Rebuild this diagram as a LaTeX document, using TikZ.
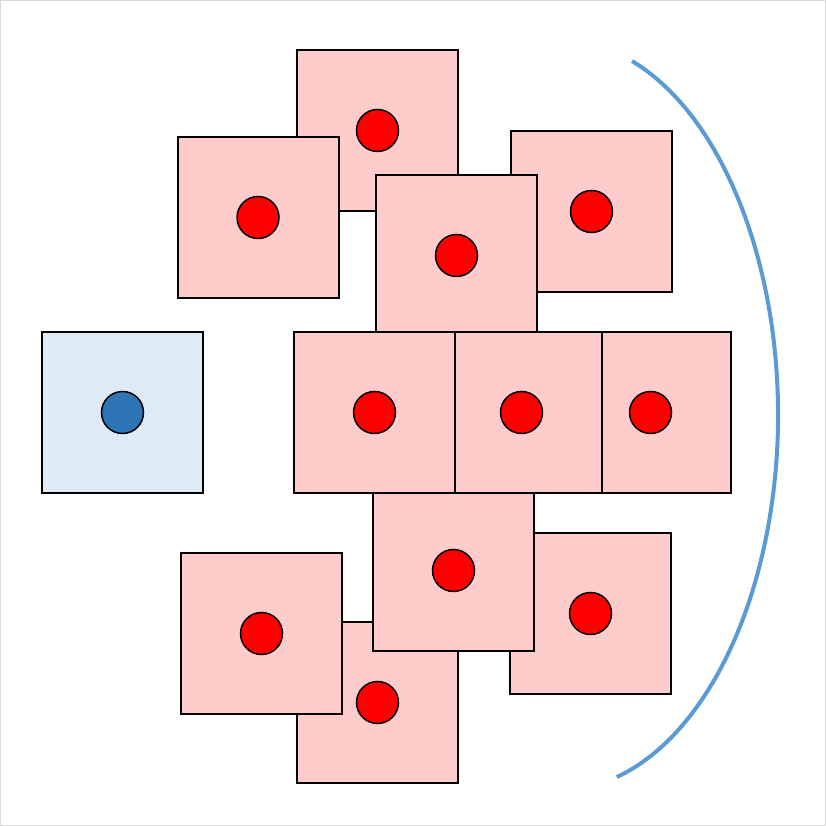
\documentclass[tikz,border=0pt]{standalone}
\usepackage{xcolor}
\usepackage{tikz}
\usetikzlibrary{
  positioning,
}

\definecolor{cellpink}{HTML}{FFCCCC}
\definecolor{dotred}{HTML}{FF0000}
\definecolor{cellblue}{HTML}{DEEAF6}
\definecolor{dotblue}{HTML}{2E75B6}
\definecolor{bowblue}{HTML}{5B9BD5}
\definecolor{framegray}{HTML}{D9D9D9}

\begin{document}
\begin{tikzpicture}[
  x=0.1mm, y=0.1mm,
  cell/.style={draw=black, line width=0.2mm, fill=cellpink,
    minimum size=16.1mm, inner sep=0pt, outer sep=0pt},
  dot/.style={circle, draw=black, line width=0.15mm, fill=dotred,
    minimum size=4.2mm, inner sep=0pt},
]

\useasboundingbox (0,0) rectangle (826,826);
\draw[framegray, line width=0.1mm] (0.5,0.5) rectangle (825.5,825.5);

% red cells, back to front
\foreach \n/\x/\y in {top/377.5/695.5, topright/591.5/614.5,
    topleft/258/608.5, topmid/456.5/570.5,
    low/377.5/123.5, lowright/590.5/212.5,
    lowleft/261.5/192.5, lowmid/453.5/255.5,
    right/650.5/413.5, mid/521.5/413.5, left/374.5/413.5}{
  \node[cell] (sq\n) at (\x,\y) {};
  \node[dot] (pt\n) at (sq\n.center) {};
}

% the odd one out
\node[cell, fill=cellblue] (sqblue) at (122.5,413.5) {};
\node[dot, fill=dotblue] (ptblue) at (sqblue.center) {};

\coordinate (bowc) at (560,411);
\draw[bowblue, line width=0.4mm] (bowc) ++(70.7:21.8mm and 37.5mm)
  arc[start angle=70.7, end angle=-74.9, x radius=21.8mm, y radius=37.5mm];

\end{tikzpicture}
\end{document}
